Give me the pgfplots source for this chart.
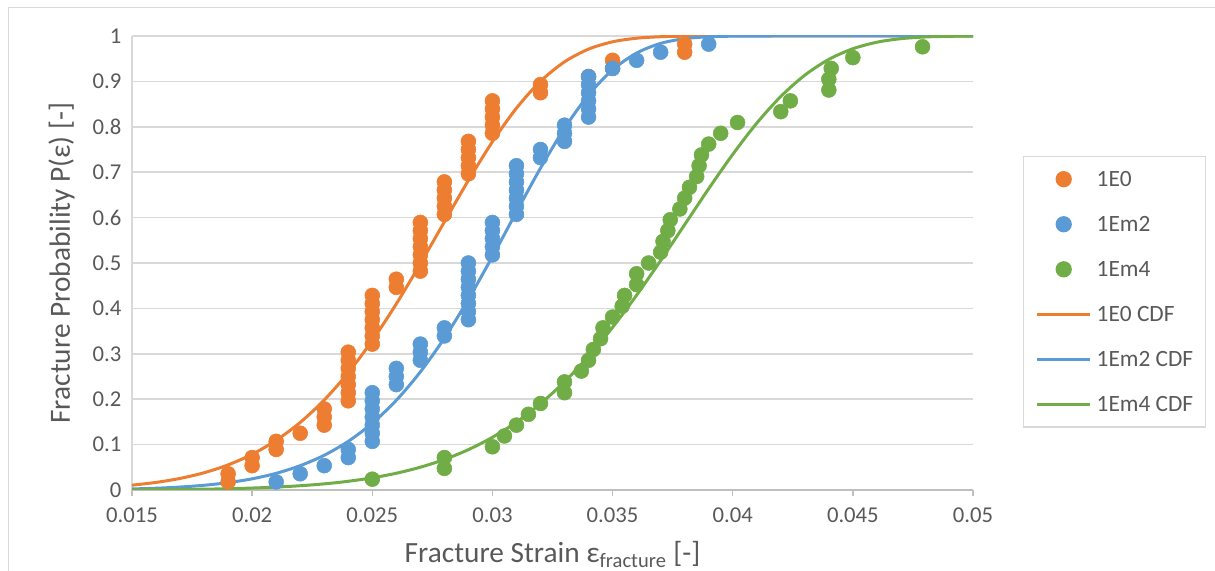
\documentclass[border=0pt]{standalone}
\usepackage{pgfplots}
\pgfplotsset{compat=1.18}
\usepackage{fontspec}
\setmainfont{Carlito}
\definecolor{cO}{HTML}{ED7D31}
\definecolor{cB}{HTML}{5B9BD5}
\definecolor{cG}{HTML}{70AD47}
\definecolor{grd}{HTML}{D9D9D9}
\definecolor{axl}{HTML}{BFBFBF}
\definecolor{txt}{HTML}{595959}
\pgfplotsset{lgimg/.style={legend image code/.code={\draw[mark repeat=2,mark phase=2,##1] plot coordinates {(0pt,0pt) (19.875pt,0pt) (39.75pt,0pt)};}}}
\begin{document}
\begin{tikzpicture}
\useasboundingbox (0,0) rectangle (911.25pt,428.25pt);
\draw[grd, line width=0.75pt] (6pt,0) -- (6pt,422.25pt) -- (911.25pt,422.25pt);
\begin{axis}[
  at={(99pt,60.75pt)}, anchor=south west,
  scale only axis, width=630.75pt, height=340.5pt,
  xmin=0.015, xmax=0.05, ymin=0, ymax=1,
  scaled x ticks=false, scaled y ticks=false,
  xtick={0.015,0.02,0.025,0.03,0.035,0.04,0.045,0.05},
  xticklabels={0.015,0.02,0.025,0.03,0.035,0.04,0.045,0.05},
  ytick={0,0.1,0.2,0.3,0.4,0.5,0.6,0.7,0.8,0.9,1},
  yticklabels={0,0.1,0.2,0.3,0.4,0.5,0.6,0.7,0.8,0.9,1},
  /pgf/number format/assume math mode=true,
  axis lines*=left,
  x axis line style={axl, line width=1pt},
  y axis line style={grd, line width=1pt},
  tick align=outside, major tick length=4.5pt,
  xtick style={axl, line width=1pt},
  ytick style={draw=none},
  ymajorgrids, grid style={grd, line width=1.1pt},
  ticklabel style={font=\fontsize{17}{20}\selectfont, text=txt},
  xticklabel style={yshift=-5pt},
  xlabel={Fracture Strain ε\textsubscript{fracture} [-]},
  ylabel={Fracture Probability P(ε) [-]},
  label style={font=\fontsize{22}{26}\selectfont, text=txt},
  xlabel style={at={(axis description cs:0.5,0)}, anchor=base, yshift=-54.75pt},
  ylabel style={at={(axis description cs:0,0.5)}, anchor=base, rotate=0, yshift=46.5pt},
  legend style={at={(axis description cs:1.0595,0.7357)}, anchor=north west,
    draw=grd, line width=1pt, fill=white, inner xsep=9pt, inner ysep=0pt,
    row sep=0pt,
    nodes={inner sep=0pt, text height=22.4pt, text depth=11.4pt, font=\fontsize{17.5}{20}\selectfont, text=txt},
    /tikz/every odd column/.append style={column sep=3.75pt}},
  legend cell align=left,
  lgimg,
]
\addplot[only marks, mark=*, mark size=5.6pt, color=cO, lgimg] coordinates {
(0.019,0.0179)(0.019,0.0357)
(0.020,0.0536)(0.020,0.0714)
(0.021,0.0893)(0.021,0.1071)
(0.022,0.1250)
(0.023,0.1429)(0.023,0.1607)(0.023,0.1786)
(0.024,0.1964)(0.024,0.2143)(0.024,0.2321)(0.024,0.2500)(0.024,0.2679)(0.024,0.2857)(0.024,0.3036)
(0.025,0.3214)(0.025,0.3393)(0.025,0.3571)(0.025,0.3750)(0.025,0.3929)(0.025,0.4107)(0.025,0.4286)
(0.026,0.4464)(0.026,0.4643)
(0.027,0.4821)(0.027,0.5000)(0.027,0.5179)(0.027,0.5357)(0.027,0.5536)(0.027,0.5714)(0.027,0.5893)
(0.028,0.6071)(0.028,0.6250)(0.028,0.6429)(0.028,0.6607)(0.028,0.6786)
(0.029,0.6964)(0.029,0.7143)(0.029,0.7321)(0.029,0.7500)(0.029,0.7679)
(0.030,0.7857)(0.030,0.8036)(0.030,0.8214)(0.030,0.8393)(0.030,0.8571)
(0.032,0.8750)(0.032,0.8929)
(0.034,0.9107)
(0.035,0.9286)(0.035,0.9464)
(0.038,0.9643)(0.038,0.9821)
};
\addlegendentry{1E0}
\addplot[only marks, mark=*, mark size=5.6pt, color=cB, lgimg] coordinates {
(0.021,0.0179)
(0.022,0.0357)
(0.023,0.0536)
(0.024,0.0714)(0.024,0.0893)
(0.025,0.1071)(0.025,0.1250)(0.025,0.1429)(0.025,0.1607)(0.025,0.1786)(0.025,0.1964)(0.025,0.2143)
(0.026,0.2321)(0.026,0.2500)(0.026,0.2679)
(0.027,0.2857)(0.027,0.3036)(0.027,0.3214)
(0.028,0.3393)(0.028,0.3571)
(0.029,0.3750)(0.029,0.3929)(0.029,0.4107)(0.029,0.4286)(0.029,0.4464)(0.029,0.4643)(0.029,0.4821)(0.029,0.5000)
(0.030,0.5179)(0.030,0.5357)(0.030,0.5536)(0.030,0.5714)(0.030,0.5893)
(0.031,0.6071)(0.031,0.6250)(0.031,0.6429)(0.031,0.6607)(0.031,0.6786)(0.031,0.6964)(0.031,0.7143)
(0.032,0.7321)(0.032,0.7500)
(0.033,0.7679)(0.033,0.7857)(0.033,0.8036)
(0.034,0.8214)(0.034,0.8393)(0.034,0.8571)(0.034,0.8750)(0.034,0.8929)(0.034,0.9107)
(0.035,0.9286)
(0.036,0.9464)
(0.037,0.9643)
(0.039,0.9821)
};
\addlegendentry{1Em2}
\addplot[only marks, mark=*, mark size=5.6pt, color=cG, lgimg] coordinates {
(0.0250,0.0238)(0.0280,0.0476)(0.0280,0.0714)(0.0300,0.0952)(0.0305,0.1190)
(0.0310,0.1429)(0.0315,0.1667)(0.0320,0.1905)(0.0330,0.2143)(0.0330,0.2381)
(0.0337,0.2619)(0.0340,0.2857)(0.0342,0.3095)(0.0345,0.3333)(0.0346,0.3571)
(0.0350,0.3810)(0.0354,0.4048)(0.0355,0.4286)(0.0360,0.4524)(0.0360,0.4762)
(0.0365,0.5000)(0.0370,0.5238)(0.0371,0.5476)(0.0373,0.5714)(0.0374,0.5952)
(0.0378,0.6190)(0.0380,0.6429)(0.0382,0.6667)(0.0385,0.6905)(0.0386,0.7143)
(0.0387,0.7381)(0.0390,0.7619)(0.0395,0.7857)(0.0402,0.8095)(0.0420,0.8333)
(0.0424,0.8571)(0.0440,0.8810)(0.0440,0.9048)(0.0441,0.9286)(0.0450,0.9524)
(0.0479,0.9762)
};
\addlegendentry{1Em4}
\addplot[cO, line width=2.25pt, smooth, no marks] coordinates {
(0.015,0.0106)(0.016,0.0167)(0.017,0.0255)(0.018,0.0380)(0.019,0.0553)
(0.020,0.0786)(0.021,0.1094)(0.022,0.1488)(0.023,0.1982)(0.024,0.2584)
(0.025,0.3293)(0.026,0.4100)(0.027,0.4983)(0.028,0.5906)(0.029,0.6820)
(0.030,0.7671)(0.031,0.8411)(0.032,0.9002)(0.033,0.9431)(0.034,0.9711)
(0.035,0.9872)(0.036,0.9951)(0.037,0.9984)(0.038,0.9996)(0.039,0.9999)
(0.040,1.0000)(0.045,1.0000)(0.050,1.0000)
};
\addlegendentry{1E0 CDF}
\addplot[cB, line width=2.25pt, smooth, no marks] coordinates {
(0.015,0.0023)(0.016,0.0039)(0.017,0.0065)(0.018,0.0104)(0.019,0.0162)
(0.020,0.0246)(0.021,0.0367)(0.022,0.0536)(0.023,0.0765)(0.024,0.1072)
(0.025,0.1470)(0.026,0.1976)(0.027,0.2601)(0.028,0.3346)(0.029,0.4202)
(0.030,0.5143)(0.031,0.6125)(0.032,0.7089)(0.033,0.7967)(0.034,0.8701)
(0.035,0.9254)(0.036,0.9624)(0.037,0.9837)(0.038,0.9941)(0.039,0.9983)
(0.040,0.9996)(0.041,0.9999)(0.042,1.0000)(0.046,1.0000)(0.050,1.0000)
};
\addlegendentry{1Em2 CDF}
\addplot[cG, line width=2.25pt, smooth, no marks] coordinates {
(0.015,0.0004)(0.016,0.0007)(0.017,0.0011)(0.018,0.0018)(0.019,0.0028)
(0.020,0.0043)(0.021,0.0064)(0.022,0.0094)(0.023,0.0135)(0.024,0.0192)
(0.025,0.0268)(0.026,0.0369)(0.027,0.0502)(0.028,0.0672)(0.029,0.0889)
(0.030,0.1161)(0.031,0.1496)(0.032,0.1902)(0.033,0.2383)(0.034,0.2945)
(0.035,0.3583)(0.036,0.4291)(0.037,0.5053)(0.038,0.5844)(0.039,0.6636)
(0.040,0.7392)(0.041,0.8080)(0.042,0.8667)(0.043,0.9137)(0.044,0.9485)
(0.045,0.9719)(0.046,0.9863)(0.047,0.9941)(0.048,0.9978)(0.049,0.9993)
(0.050,0.9998)
};
\addlegendentry{1Em4 CDF}
\end{axis}
\end{tikzpicture}
\end{document}
